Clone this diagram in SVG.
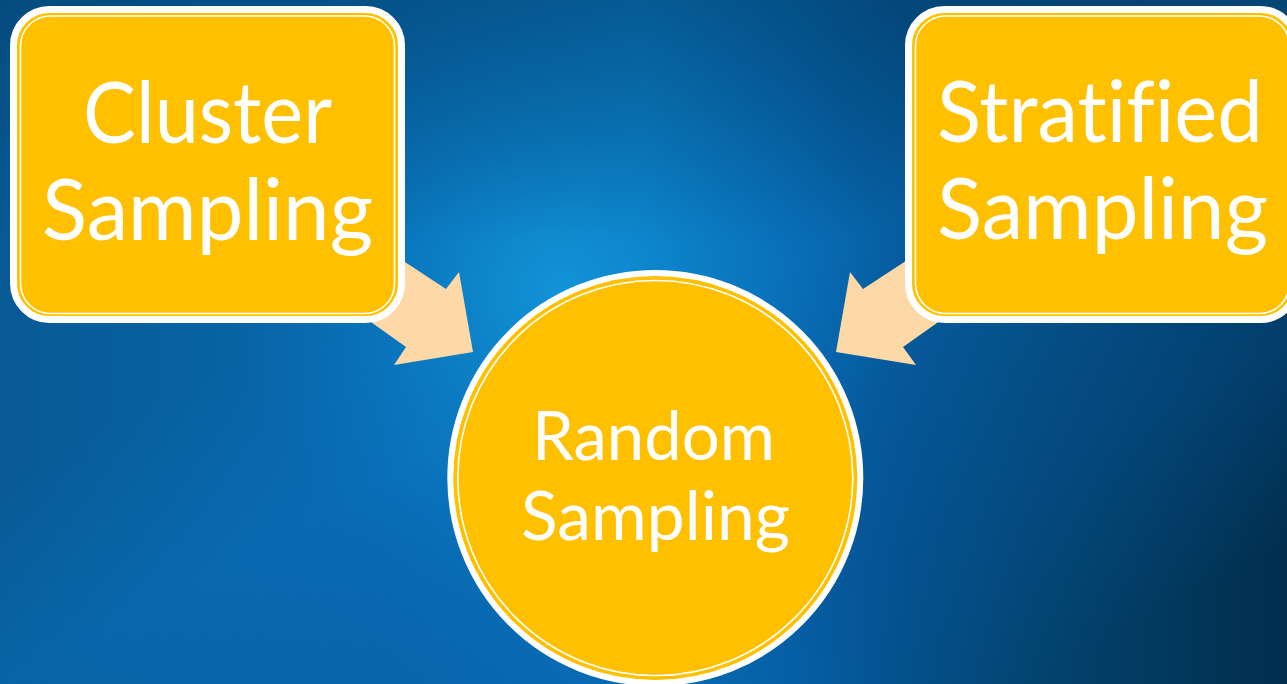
<svg xmlns="http://www.w3.org/2000/svg" width="1287" height="684" viewBox="0 0 1287 684">
  <defs>
    <linearGradient id="bgH" x1="0" y1="0" x2="1" y2="0">
      <stop offset="0" stop-color="#085a94"/>
      <stop offset="0.3" stop-color="#0868ae"/>
      <stop offset="0.5" stop-color="#0a7cc4"/>
      <stop offset="0.62" stop-color="#0662a8"/>
      <stop offset="0.7" stop-color="#04508a"/>
      <stop offset="0.8" stop-color="#034470"/>
      <stop offset="1" stop-color="#012e4d"/>
    </linearGradient>
    <radialGradient id="glow" cx="560" cy="290" r="330" gradientUnits="userSpaceOnUse">
      <stop offset="0" stop-color="#1497da" stop-opacity="0.9"/>
      <stop offset="0.5" stop-color="#0c86cc" stop-opacity="0.45"/>
      <stop offset="1" stop-color="#0a78c0" stop-opacity="0"/>
    </radialGradient>
    <linearGradient id="topShade" x1="0" y1="0" x2="0" y2="1">
      <stop offset="0" stop-color="#03406c" stop-opacity="0.55"/>
      <stop offset="0.35" stop-color="#03406c" stop-opacity="0"/>
    </linearGradient>
    <linearGradient id="band" x1="0" y1="0" x2="1" y2="1">
      <stop offset="0.35" stop-color="#0b6fbb" stop-opacity="0"/>
      <stop offset="0.5" stop-color="#0a70bd" stop-opacity="0.45"/>
      <stop offset="0.75" stop-color="#06559a" stop-opacity="0.4"/>
      <stop offset="0.9" stop-color="#06559a" stop-opacity="0"/>
    </linearGradient>
  </defs>
  <style>
    .box { fill: #FFC000; stroke: #FFFFFF; stroke-width: 7; }
    .inner { fill: none; stroke: #FFFFFF; stroke-width: 1.6; }
    .lbl { font-family: Lato, "Open Sans", "Liberation Sans", sans-serif; fill: #FFFFFF; font-variant-ligatures: none; font-feature-settings: "liga" 0; }
    .big { font-size: 86px; }
    .mid { font-size: 68px; }
    .arrow { fill: #FDD9A8; stroke: none; }
  </style>

  <g id="background">
    <rect x="0" y="0" width="1287" height="684" fill="url(#bgH)"/>
    <rect x="0" y="0" width="1287" height="684" fill="url(#band)"/>
    <rect x="0" y="0" width="1287" height="684" fill="url(#glow)"/>
    <rect x="0" y="0" width="1287" height="684" fill="url(#topShade)"/>
  </g>

  <g id="connectors">
    <polygon class="arrow" points="370,239 446,289 459,272 473,352 394,365 406,347 340,300"/>
    <polygon class="arrow" points="939.5,239 863,289 850,272 836,352 916,365 903,347 969.5,300"/>
  </g>

  <g id="cluster">
    <rect class="box" x="13.5" y="9.5" width="388" height="310" rx="36"/>
    <rect class="inner" x="20.5" y="16" width="374" height="297.5" rx="30"/>
    <text class="lbl big" x="83" y="143" textLength="249" lengthAdjust="spacingAndGlyphs">Cluster</text>
    <text class="lbl big" x="42" y="240" textLength="331" lengthAdjust="spacingAndGlyphs">Sampling</text>
  </g>

  <g id="stratified">
    <rect class="box" x="908.5" y="9.5" width="388" height="310" rx="36"/>
    <rect class="inner" x="915.5" y="16" width="374" height="297.5" rx="30"/>
    <text class="lbl big" x="937" y="142" textLength="326" lengthAdjust="spacingAndGlyphs">Stratified</text>
    <text class="lbl big" x="937" y="239" textLength="331" lengthAdjust="spacingAndGlyphs">Sampling</text>
  </g>

  <g id="random">
    <circle cx="655.3" cy="478" r="205" fill="#FFC000" stroke="#FFFFFF" stroke-width="6"/>
    <circle cx="655.3" cy="478" r="197.5" fill="none" stroke="#FFFFFF" stroke-width="1.6"/>
    <text class="lbl mid" x="532" y="460" textLength="243" lengthAdjust="spacingAndGlyphs">Random</text>
    <text class="lbl mid" x="521" y="540" textLength="269" lengthAdjust="spacingAndGlyphs">Sampling</text>
  </g>
</svg>
